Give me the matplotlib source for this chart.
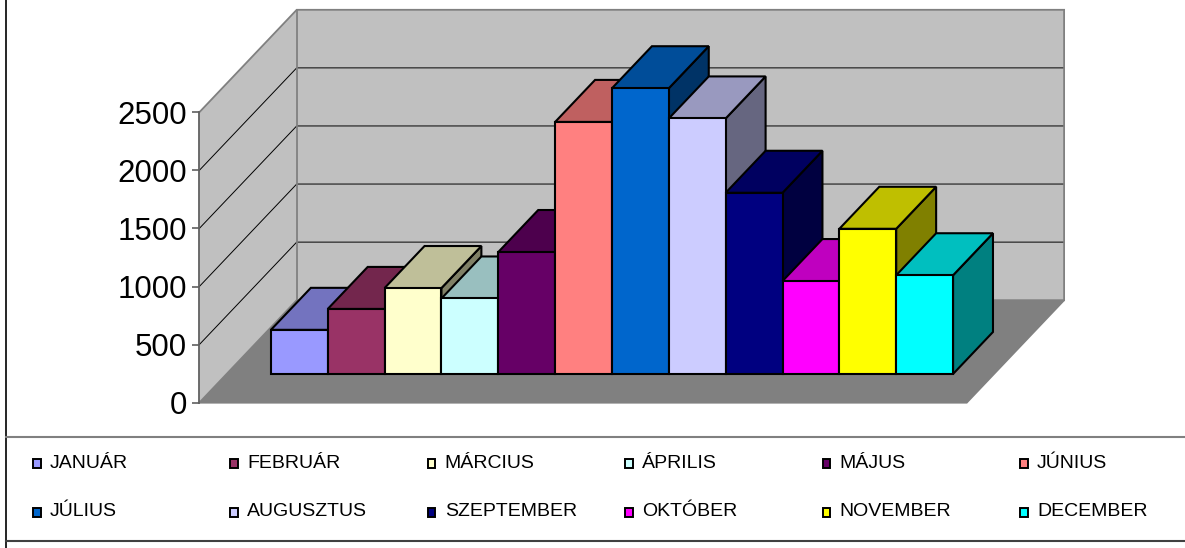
import matplotlib
matplotlib.use('Agg')
import matplotlib.pyplot as plt
from matplotlib.patches import Polygon, Rectangle
from matplotlib.colors import to_rgb

# chart data
months = ['JANUÁR', 'FEBRUÁR', 'MÁRCIUS', 'ÁPRILIS', 'MÁJUS', 'JÚNIUS',
          'JÚLIUS', 'AUGUSZTUS', 'SZEPTEMBER', 'OKTÓBER', 'NOVEMBER', 'DECEMBER']
values = [380, 560, 740, 650, 1050, 2170, 2460, 2200, 1560, 800, 1250, 850]
colors = ['#9999FF', '#993366', '#FFFFCC', '#CCFFFF', '#660066', '#FF8080',
          '#0066CC', '#CCCCFF', '#000080', '#FF00FF', '#FFFF00', '#00FFFF']
yticks = [0, 500, 1000, 1500, 2000, 2500]

plt.rcParams['font.family'] = ['Liberation Sans', 'DejaVu Sans']

W, H = 1185, 548
fig = plt.figure(figsize=(W / 100, H / 100), dpi=100)
fig.patch.set_facecolor('white')

# front plane of the 3d box, in pixels
x_left, x_right = 199.3, 966.7
y_zero, y_top = 402.7, 112.3
ax = fig.add_axes([x_left / W, (H - y_zero) / H, (x_right - x_left) / W, (y_zero - y_top) / H])
XMAX, YMAX = 13.5, 2500
ax.set_xlim(0, XMAX)
ax.set_ylim(0, YMAX)
ax.set_facecolor('none')

# depth vector (full depth of the box) in data units
DX = 97.4 / (x_right - x_left) * XMAX
DY = 102.5 / (y_zero - y_top) * YMAX


def proj(x, y, d):
    return (x + d * DX, y + d * DY)


def face(pts, fc, ec, lw, z):
    p = Polygon([proj(*q) for q in pts], closed=True, facecolor=fc, edgecolor=ec,
                linewidth=lw, zorder=z, clip_on=False, joinstyle='miter')
    ax.add_patch(p)


wall = '#C0C0C0'
floor = '#808080'
border = '#808080'

# floor
face([(0, 0, 0), (XMAX, 0, 0), (XMAX, 0, 1), (0, 0, 1)], floor, 'none', 0, 0.5)
# side wall and back wall
face([(0, 0, 0), (0, 0, 1), (0, YMAX, 1), (0, YMAX, 0)], wall, 'none', 0, 0.5)
face([(0, 0, 1), (XMAX, 0, 1), (XMAX, YMAX, 1), (0, YMAX, 1)], wall, 'none', 0, 0.5)

# gridlines
for v in yticks[1:-1]:
    xs, ys = zip(proj(0, v, 0), proj(0, v, 1), proj(XMAX, v, 1))
    ax.plot(xs, ys, color='black', lw=0.7, zorder=0.8, clip_on=False)

# wall borders
edges = [
    [(0, YMAX, 0), (0, YMAX, 1), (XMAX, YMAX, 1), (XMAX, 0, 1), (XMAX, 0, 0), (0, 0, 0)],
    [(0, 0, 1), (0, YMAX, 1)],
    [(0, 0, 0), (0, 0, 1), (XMAX, 0, 1)],
]
for e in edges:
    xs, ys = zip(*[proj(*q) for q in e])
    ax.plot(xs, ys, color=border, lw=1.3, zorder=0.9, clip_on=False, solid_joinstyle='miter')

# bars
start, width = 0.78, 1.0
f0, f1 = 0.28, 0.69
for i, (v, c) in enumerate(zip(values, colors)):
    x0 = start + i * width
    x1 = x0 + width
    rgb = to_rgb(c)
    top = tuple(k * 0.75 for k in rgb)
    side = tuple(k * 0.5 for k in rgb)
    z = 2 + i * 0.1
    face([(x1, 0, f0), (x1, 0, f1), (x1, v, f1), (x1, v, f0)], side, 'black', 1.5, z)
    face([(x0, v, f0), (x1, v, f0), (x1, v, f1), (x0, v, f1)], top, 'black', 1.5, z)
    face([(x0, 0, f0), (x1, 0, f0), (x1, v, f0), (x0, v, f0)], rgb, 'black', 1.5, z)

# value axis
for s in ['top', 'right', 'bottom']:
    ax.spines[s].set_visible(False)
ax.spines['left'].set_color('#606060')
ax.spines['left'].set_linewidth(1.3)
ax.set_xticks([])
ax.set_yticks(yticks)
ax.set_yticklabels([str(t) for t in yticks])
ax.tick_params(axis='y', direction='out', length=5, width=1.2, color='#606060',
               labelsize=22.5, pad=4)

# overlay for chart border and legend
lax = fig.add_axes([0, 0, 1, 1])
lax.set_xlim(0, W)
lax.set_ylim(H, 0)
lax.axis('off')
lax.set_facecolor('none')
lax.plot([5.5, 5.5], [0, H], color='black', lw=1.2)
lax.plot([5.5, W], [437, 437], color='#808080', lw=1.5)
lax.plot([5.5, W], [541, 541], color='#404040', lw=1.5)

col_x0, col_step = 33, 197.4
row_y = [463, 512]
for i, (m, c) in enumerate(zip(months, colors)):
    r, k = divmod(i, 6)
    mx = col_x0 + k * col_step
    my = row_y[r]
    lax.add_patch(Rectangle((mx, my - 4.5), 7.5, 9.5, facecolor=c, edgecolor='black', lw=1.4))
    lax.text(mx + 17, my, m, fontsize=14, va='center', ha='left', color='black')

fig.savefig('out.png', dpi=100)
